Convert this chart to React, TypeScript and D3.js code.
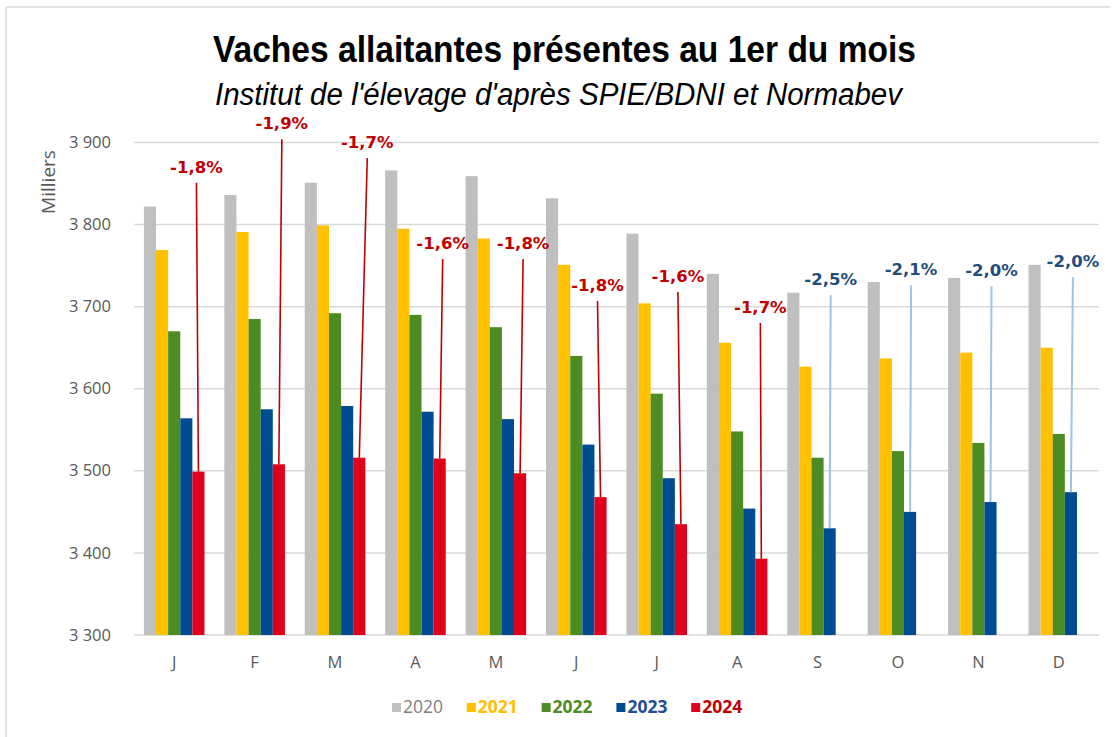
import React from "react";
import * as d3 from "d3";

const months = ["J", "F", "M", "A", "M", "J", "J", "A", "S", "O", "N", "D"];
const years = ["2020", "2021", "2022", "2023", "2024"];
const v2020 = [3822, 3836, 3851, 3866, 3859, 3832, 3789, 3740, 3717, 3730, 3735, 3751];
const v2021 = [3769, 3791, 3799, 3795, 3783, 3751, 3704, 3656, 3627, 3637, 3644, 3650];
const v2022 = [3670, 3685, 3692, 3690, 3675, 3640, 3594, 3548, 3516, 3524, 3534, 3545];
const v2023 = [3564, 3575, 3579, 3572, 3563, 3532, 3491, 3454, 3430, 3450, 3462, 3474];
const v2024 = [3499, 3508, 3516, 3515, 3497, 3468, 3435, 3393];
const yTicks = [3300, 3400, 3500, 3600, 3700, 3800, 3900];
const changeLabels = ["-1,8%", "-1,9%", "-1,7%", "-1,6%", "-1,8%", "-1,8%", "-1,6%", "-1,7%", "-2,5%", "-2,1%", "-2,0%", "-2,0%"];
// level (in thousands) where each leader line starts
const labelLevels = [3851, 3904, 3881, 3758, 3758, 3707, 3718, 3680, 3714, 3726, 3725, 3736];

const series = [v2020, v2021, v2022, v2023, v2024];
const barColors = ["#BFBFBF", "#FFC000", "#4C8C22", "#004C93", "#E0001B"];
const legendText = ["#808080", "#FFC000", "#4C8C22", "#1F4E96", "#C00000"];
const labelNudge = [-2, 3, 8, 3, 3, -3, -3, -1, 1, 1, 1, 2];

const W = 1116;
const H = 737;

export default function App() {
  const x = d3
    .scaleBand<number>()
    .domain(d3.range(months.length))
    .range([134, 1099])
    .paddingInner(0.247)
    .paddingOuter(0.1235);
  const xs = d3.scaleBand<number>().domain(d3.range(years.length)).range([0, x.bandwidth()]);
  const y = d3.scaleLinear().domain([3300, 3900]).range([635, 142.5]);
  const fmt = (v: number) => d3.format(",")(v).replace(",", " ");

  return (
    <>
      <style>{"body{margin:0;overflow:hidden}"}</style>
      <svg width={W} height={H} style={{ display: "block", background: "#fff" }}>
        {/* frame */}
        <line x1={6} y1={7} x2={1110} y2={7} stroke="#D9D9D9" strokeWidth={1.5} />
        <line x1={6} y1={7} x2={6} y2={H} stroke="#D9D9D9" strokeWidth={1.5} />

        {/* title */}
        <text
          x={564.5}
          y={62}
          textAnchor="middle"
          fontFamily="'Liberation Sans', Arial, sans-serif"
          fontWeight="bold"
          fontSize={36}
          textLength={703}
          lengthAdjust="spacingAndGlyphs"
          fill="#000"
        >
          Vaches allaitantes présentes au 1er du mois
        </text>
        <text
          x={558.5}
          y={105}
          textAnchor="middle"
          fontFamily="'Liberation Sans', Arial, sans-serif"
          fontStyle="italic"
          fontSize={31}
          textLength={687}
          lengthAdjust="spacingAndGlyphs"
          fill="#000"
        >
          Institut de l'élevage d'après SPIE/BDNI et Normabev
        </text>

        {/* gridlines + y labels */}
        {yTicks.map((t) => (
          <g key={t}>
            <line x1={134} x2={1099} y1={y(t)} y2={y(t)} stroke="#D9D9D9" strokeWidth={1.5} />
            <text
              x={111}
              y={y(t)}
              dy="0.34em"
              textAnchor="end"
              fontFamily="'Open Sans', sans-serif"
              fontSize={16.5}
              fill="#595959"
            >
              {fmt(t)}
            </text>
          </g>
        ))}
        <text
          transform={`translate(55,182) rotate(-90)`}
          textAnchor="middle"
          fontFamily="'Open Sans', sans-serif"
          fontSize={19}
          fill="#595959"
        >
          Milliers
        </text>

        {/* bars */}
        {series.map((vals, si) => (
          <g key={years[si]} fill={barColors[si]}>
            {vals.map((v, mi) => (
              <rect
                key={mi}
                x={(x(mi) as number) + (xs(si) as number)}
                y={y(v)}
                width={xs.bandwidth()}
                height={y(3300) - y(v)}
              />
            ))}
          </g>
        ))}

        {/* x labels */}
        {months.map((m, i) => (
          <text
            key={i}
            x={(x(i) as number) + x.bandwidth() / 2}
            y={668}
            textAnchor="middle"
            fontFamily="'Open Sans', sans-serif"
            fontSize={16.5}
            fill="#595959"
          >
            {m}
          </text>
        ))}

        {/* change labels with leader lines */}
        {changeLabels.map((lab, i) => {
          const si = i < v2024.length ? 4 : 3;
          const v = series[si][i];
          const bx = (x(i) as number) + (xs(si) as number) + xs.bandwidth() / 2;
          const lx = bx + labelNudge[i];
          const ly = y(labelLevels[i]);
          const red = si === 4;
          return (
            <g key={i}>
              <line
                x1={lx}
                y1={ly}
                x2={bx}
                y2={y(v)}
                stroke={red ? "#C00000" : "#9DC3E6"}
                strokeWidth={red ? 1.6 : 2}
              />
              <text
                x={lx}
                y={ly - 10}
                textAnchor="middle"
                fontFamily="'DejaVu Sans', sans-serif"
                fontWeight="bold"
                fontSize={16.5}
                fill={red ? "#C00000" : "#1F4E79"}
              >
                {lab}
              </text>
            </g>
          );
        })}

        {/* legend */}
        {years.map((yr, i) => {
          const lx = 392 + i * 74.8;
          return (
            <g key={yr}>
              <rect x={lx} y={703} width={9} height={9} fill={barColors[i]} />
              <text
                x={lx + 11}
                y={713}
                fontFamily="'Open Sans', sans-serif"
                fontSize={17.5}
                fontWeight={i === 0 ? "normal" : "bold"}
                fill={legendText[i]}
              >
                {yr}
              </text>
            </g>
          );
        })}
      </svg>
    </>
  );
}
